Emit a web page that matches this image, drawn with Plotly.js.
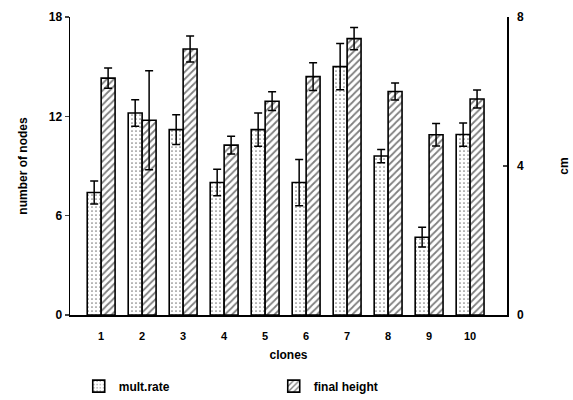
<!DOCTYPE html>
<html><head><meta charset="utf-8">
<script src="https://cdn.plot.ly/plotly-3.0.1.min.js"></script>
<style>html,body{margin:0;padding:0;background:#fff}#c{width:573px;height:400px}</style>
</head><body><div id="c"></div>
<script>
const clones = [1,2,3,4,5,6,7,8,9,10];
const multRate = [7.4, 12.2, 11.2, 8.0, 11.2, 8.0, 15.0, 9.6, 4.7, 10.9];
const multRateErr = [0.7, 0.8, 0.9, 0.8, 1.0, 1.4, 1.4, 0.4, 0.6, 0.7];
const finalHeight = [6.36, 5.23, 7.14, 4.56, 5.74, 6.40, 7.42, 6.0, 4.84, 5.8];
const finalHeightErr = [0.27, 1.33, 0.35, 0.24, 0.25, 0.37, 0.3, 0.23, 0.3, 0.24];
const leftTicks = [0, 6, 12, 18];
const rightTicks = [0, 4, 8];

const F = 'Liberation Sans, Arial, sans-serif';
const errStyle = {type:'data', visible:true, color:'#000', thickness:1.5, width:4};

const traces = [
  {type:'bar', name:'mult.rate', x:clones, y:multRate, yaxis:'y',
   width:0.34, offset:-0.34,
   error_y:Object.assign({array:multRateErr}, errStyle),
   marker:{color:'#fff', line:{color:'#000', width:1.6},
     pattern:{shape:'.', size:4, solidity:0.15, fgcolor:'#000', bgcolor:'#fff', fillmode:'overlay'}}},
  {type:'bar', name:'final height', x:clones, y:finalHeight, yaxis:'y2',
   width:0.34, offset:0,
   error_y:Object.assign({array:finalHeightErr}, errStyle),
   marker:{color:'#fff', line:{color:'#000', width:1.6},
     pattern:{shape:'/', size:5, solidity:0.35, fgcolor:'#000', bgcolor:'#fff', fillmode:'overlay'}}}
];

const layout = {
  width:573, height:400,
  margin:{l:70, r:66, t:17, b:85, autoexpand:false},
  paper_bgcolor:'#fff', plot_bgcolor:'#fff',
  font:{family:F, size:11, color:'#000', weight:'bold'},
  showlegend:true,
  legend:{orientation:'h', x:0.02, xanchor:'left', y:-0.19, yanchor:'top',
    entrywidth:150, font:{family:F, size:12, weight:'bold'}, traceorder:'normal'},
  xaxis:{range:[0.24, 10.9], tickvals:clones, ticktext:clones.map(String),
    showgrid:false, zeroline:false, showline:true, linecolor:'#000', linewidth:1.5,
    ticks:'', ticklabelstandoff:10,
    title:{text:'clones', font:{family:F, size:12, weight:'bold'}, standoff:10}},
  yaxis:{range:[0, 18], tickvals:leftTicks, showgrid:false, zeroline:false,
    showline:true, linecolor:'#000', linewidth:1.5, ticks:'outside', ticklen:4, tickwidth:1.5,
    tickfont:{family:F, size:12, weight:'bold'},
    title:{text:'number of nodes', font:{family:F, size:12, weight:'bold'}, standoff:18}},
  yaxis2:{range:[0, 8], tickvals:rightTicks, overlaying:'y', side:'right',
    showgrid:false, zeroline:false, showline:true, linecolor:'#000', linewidth:1.5,
    ticks:'inside', ticklen:4, tickwidth:1.5, ticklabelstandoff:6,
    tickfont:{family:F, size:12, weight:'bold'},
    title:{text:'cm', font:{family:F, size:12, weight:'bold'}, standoff:36}}
};

Plotly.newPlot('c', traces, layout, {displayModeBar:false, staticPlot:true});
</script></body></html>
